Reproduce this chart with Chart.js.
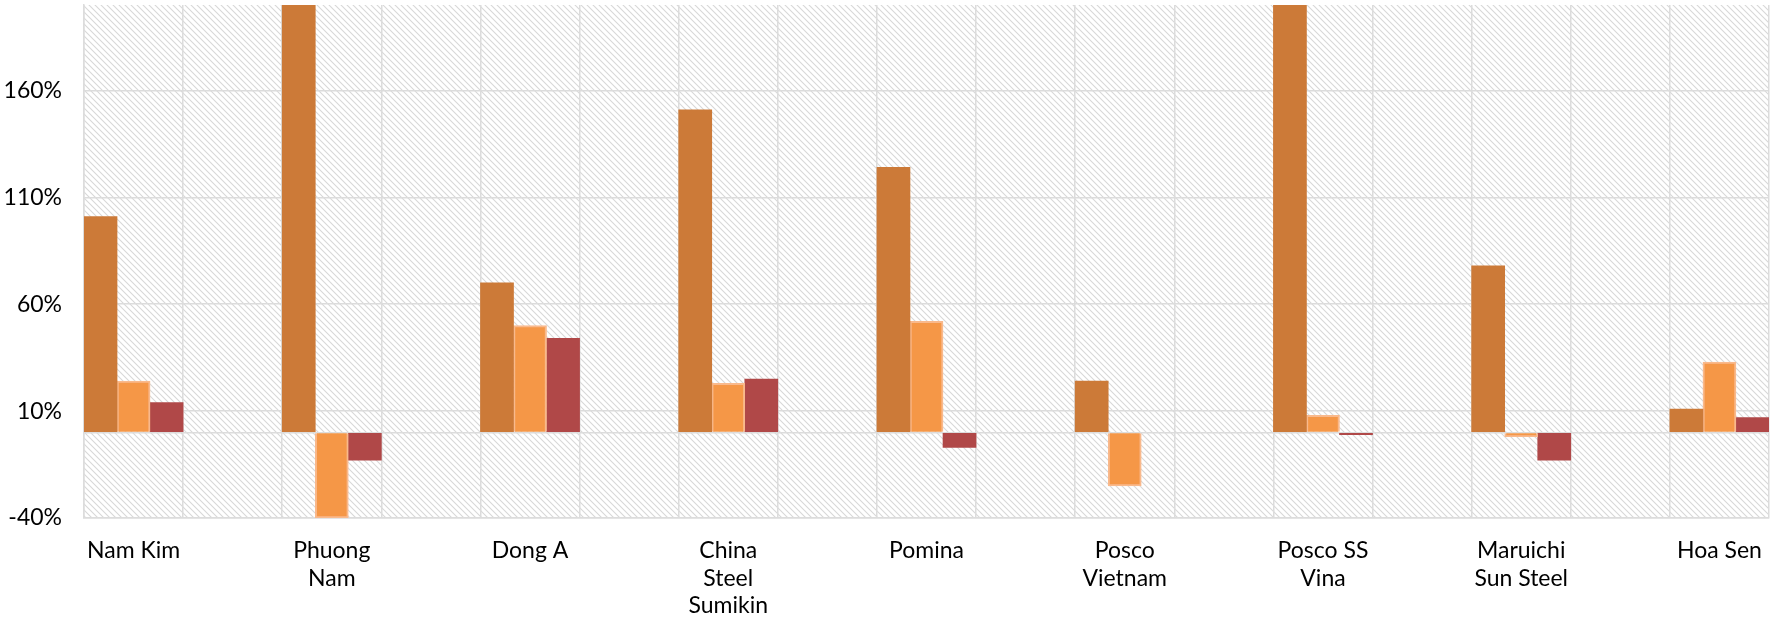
<!DOCTYPE html>
<html>
<head>
<meta charset="utf-8">
<script src="https://cdn.jsdelivr.net/npm/chart.js@4/dist/chart.umd.min.js"></script>
<style>
  html, body { margin: 0; padding: 0; background: #fff; overflow: hidden; }
</style>
</head>
<body>
<canvas id="bar-chart" width="1777" height="620"></canvas>
<script>
// companies (multi-line labels as in the picture)
var categories = [
  ['Nam Kim'], ['Phuong', 'Nam'], ['Dong A'], ['China', 'Steel', 'Sumikin'],
  ['Pomina'], ['Posco', 'Vietnam'], ['Posco SS', 'Vina'], ['Maruichi', 'Sun Steel'], ['Hoa Sen']
];
// three series, in %
var seriesA = [101, 230, 70, 151, 124, 24, 230, 78, 11];
var seriesB = [24, -40, 50, 23, 52, -25, 8, -2, 33];
var seriesC = [14, -13, 44, 25, -7, null, -1, -13, 7];
var yTicks = [-40, 0, 10, 60, 110, 160];

var colors = ['#CC7A38', '#F59747', '#B04848'];

// every company is followed by an empty slot of the same width
var labels = [];
function spaced(values) {
  var out = [];
  values.forEach(function(v, i) {
    out.push(v);
    if (i < values.length - 1) out.push(null);
  });
  return out;
}
categories.forEach(function(c, i) {
  labels.push(c);
  if (i < categories.length - 1) labels.push('');
});

// diagonal hatch for the plot background
var hatch = document.createElement('canvas');
hatch.width = 6; hatch.height = 6;
var hc = hatch.getContext('2d');
hc.strokeStyle = '#d8d8d8';
hc.lineWidth = 1.1;
hc.beginPath();
hc.moveTo(-1, -1); hc.lineTo(7, 7);
hc.moveTo(-1, 5); hc.lineTo(1, 7);
hc.moveTo(5, -1); hc.lineTo(7, 1);
hc.stroke();

var hatchPlugin = {
  id: 'hatch',
  beforeDraw: function(chart) {
    var a = chart.chartArea, ctx = chart.ctx;
    ctx.save();
    ctx.fillStyle = ctx.createPattern(hatch, 'repeat');
    ctx.fillRect(a.left, a.top, a.right - a.left, a.bottom - a.top);
    ctx.restore();
  }
};

var gridColor = '#dcdcdc';
var font = { family: 'Lato', size: 23 };

new Chart(document.getElementById('bar-chart'), {
  type: 'bar',
  data: {
    labels: labels,
    datasets: [
      { label: 'A', data: spaced(seriesA), backgroundColor: colors[0], borderWidth: 0 },
      { label: 'B', data: spaced(seriesB), backgroundColor: colors[1], borderColor: '#F9B98C', borderWidth: 2 },
      { label: 'C', data: spaced(seriesC), backgroundColor: colors[2], borderWidth: 0 }
    ]
  },
  plugins: [hatchPlugin],
  options: {
    responsive: false,
    animation: false,
    devicePixelRatio: 1,
    layout: { padding: { top: 5, right: 8, left: 0, bottom: 0 } },
    datasets: { bar: { categoryPercentage: 1, barPercentage: 1 } },
    plugins: { legend: { display: false }, tooltip: { enabled: false } },
    scales: {
      x: {
        grid: { color: gridColor, lineWidth: 1.5, drawTicks: false, offset: true },
        border: { color: gridColor, width: 1.5 },
        ticks: { autoSkip: false, maxRotation: 0, color: '#000', font: font, padding: 19 },
        afterFit: function(s) { s.height = 102; s.paddingLeft = 0; s.paddingRight = 0; }
      },
      y: {
        min: -40,
        max: 200,
        afterBuildTicks: function(s) {
          s.ticks = yTicks.map(function(v) { return { value: v }; });
        },
        grid: { color: gridColor, lineWidth: 1.5, drawTicks: false },
        border: { color: gridColor, width: 1.5 },
        ticks: {
          color: '#000', font: font, padding: 22,
          callback: function(v) { return v === 0 ? '' : v + '%'; }
        },
        afterFit: function(s) { s.width = 84; s.paddingTop = 0; s.paddingBottom = 0; }
      }
    }
  }
});
</script>
</body>
</html>
